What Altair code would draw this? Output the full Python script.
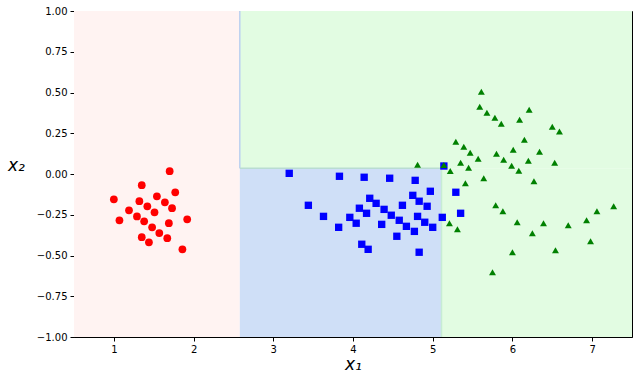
import altair as alt
import pandas as pd

# ---- data ----
red_x = [1.70, 1.35, 1.77, 1.00, 1.54, 1.32, 1.64, 1.42, 1.73, 1.19, 1.51,
         1.29, 1.07, 1.38, 1.92, 1.69, 1.48, 1.57, 1.35, 1.67, 1.44, 1.86]
red_y = [0.017, -0.069, -0.112, -0.155, -0.137, -0.167, -0.174, -0.198, -0.210,
         -0.223, -0.235, -0.260, -0.284, -0.290, -0.278, -0.302, -0.327, -0.362,
         -0.388, -0.394, -0.419, -0.462]

blue_x = [3.20, 3.83, 4.14, 4.46, 4.78, 5.14, 4.97, 4.75, 3.44, 4.21, 4.83, 4.29,
          4.93, 4.62, 4.08, 4.39, 4.17, 3.63, 4.48, 4.81, 5.12, 3.96, 4.58, 4.90,
          4.04, 4.36, 4.67, 5.00, 3.82, 4.77, 4.55, 4.11, 4.19, 4.83, 5.29, 5.35]
blue_y = [0.004, -0.014, -0.020, -0.026, -0.039, 0.049, -0.106, -0.131, -0.192,
          -0.149, -0.167, -0.180, -0.198, -0.192, -0.210, -0.217, -0.241, -0.260,
          -0.253, -0.260, -0.266, -0.266, -0.284, -0.296, -0.302, -0.309, -0.321,
          -0.327, -0.327, -0.352, -0.382, -0.431, -0.462, -0.480, -0.112, -0.241]

green_x = [5.61, 5.59, 5.68, 6.21, 5.78, 6.09, 5.86, 6.50, 6.59, 5.29, 5.39, 6.15,
           5.47, 6.01, 5.80, 6.34, 5.57, 5.89, 5.35, 6.20, 6.53, 4.81, 5.45, 5.99,
           6.08, 5.14, 5.22, 5.64, 5.41, 6.27, 5.79, 5.88, 7.27, 7.06, 6.93, 6.06,
           6.39, 6.70, 5.21, 5.31, 6.25, 6.98, 6.54, 6.00, 5.75]
green_y = [0.505, 0.413, 0.376, 0.394, 0.345, 0.333, 0.309, 0.290, 0.260, 0.198,
           0.167, 0.210, 0.131, 0.149, 0.125, 0.137, 0.094, 0.088, 0.069, 0.082,
           0.069, 0.057, 0.039, 0.051, 0.020, 0.055, 0.018, -0.026, -0.057, -0.045,
           -0.192, -0.229, -0.198, -0.229, -0.284, -0.296, -0.302, -0.315, -0.302,
           -0.339, -0.364, -0.413, -0.468, -0.480, -0.603]

# decision regions (thresholds)
region_cls = ["c0", "c2", "c1", "c2"]
region_x = [0.5, 2.58, 2.58, 5.11]
region_x2 = [2.58, 7.5, 5.11, 7.5]
region_y = [-1.0, 0.035, -1.0, -1.0]
region_y2 = [1.0, 1.0, 0.035, 0.035]

# boundary edges
edge_x = [2.58, 2.58, 5.11]
edge_x2 = [2.58, 5.11, 5.11]
edge_y = [0.035, 0.035, -1.0]
edge_y2 = [1.0, 0.035, 0.035]
edge_c = ["e1", "e2", "e3"]

x_ticks = [1, 2, 3, 4, 5, 6, 7]
y_ticks = [-1.0, -0.75, -0.5, -0.25, 0.0, 0.25, 0.5, 0.75, 1.0]

regions = pd.DataFrame({"cls": region_cls, "x": region_x, "x2": region_x2,
                        "y": region_y, "y2": region_y2})
edges = pd.DataFrame({"c": edge_c, "x": edge_x, "x2": edge_x2, "y": edge_y, "y2": edge_y2})
pts = pd.DataFrame({
    "x": red_x + blue_x + green_x,
    "y": red_y + blue_y + green_y,
    "cls": ["c0"] * len(red_x) + ["c1"] * len(blue_x) + ["c2"] * len(green_x),
})
pts["order"] = pts["cls"].map({"c0": 0, "c1": 1, "c2": 2})

xscale = alt.Scale(domain=[0.5, 7.5], nice=False, zero=False)
yscale = alt.Scale(domain=[-1, 1], nice=False, zero=False)

xaxis = alt.Axis(values=x_ticks, format="d", grid=False, title="x₁",
                 titleFont="DejaVu Sans", titleFontSize=17, titleFontStyle="italic",
                 titleFontWeight="normal", titleColor="black",
                 titleX=279, titleY=27, titleBaseline="middle", titleAlign="center")
yaxis = alt.Axis(values=y_ticks, format=".2f", grid=False, title="x₂",
                 titleFont="DejaVu Sans", titleFontSize=17, titleFontStyle="italic",
                 titleFontWeight="normal", titleColor="black", titleAngle=0,
                 titleX=-58, titleY=154, titleBaseline="middle", titleAlign="center")

bg = alt.Chart(regions).mark_rect(stroke=None).encode(
    x=alt.X("x:Q", scale=xscale, axis=xaxis),
    x2="x2:Q",
    y=alt.Y("y:Q", scale=yscale, axis=yaxis),
    y2="y2:Q",
    color=alt.Color("cls:N", scale=alt.Scale(domain=["c0", "c1", "c2"],
                    range=["#fff3f2", "#cfdff7", "#e2fce2"]), legend=None),
)

edge = alt.Chart(edges).mark_rule(strokeWidth=1.5).encode(
    x=alt.X("x:Q", scale=xscale), x2="x2:Q",
    y=alt.Y("y:Q", scale=yscale), y2="y2:Q",
    color=alt.Color("c:N", scale=alt.Scale(domain=["e1", "e2", "e3"],
                    range=["#bcd0f0", "#b9dcd2", "#c6ecd4"]), legend=None),
)

points = alt.Chart(pts).mark_point(filled=True, opacity=1, strokeWidth=0).encode(
    x=alt.X("x:Q", scale=xscale),
    y=alt.Y("y:Q", scale=yscale),
    color=alt.Color("cls:N", scale=alt.Scale(domain=["c0", "c1", "c2"],
                    range=["#ff0000", "#0000ff", "#008000"]), legend=None),
    shape=alt.Shape("cls:N", scale=alt.Scale(domain=["c0", "c1", "c2"],
                    range=["circle", "square", "triangle-up"]), legend=None),
    size=alt.Size("cls:N", scale=alt.Scale(domain=["c0", "c1", "c2"],
                  range=[60, 48, 80]), legend=None),
    order=alt.Order("order:Q"),
)

chart = alt.layer(bg, edge, points).resolve_scale(color="independent").properties(
    width=558, height=326,
    autosize=alt.AutoSizeParams(type="none"),
    padding={"left": 74, "top": 11, "right": 6, "bottom": 44},
    background="white",
).configure_view(stroke="black", strokeWidth=1).configure_axis(
    labelFont="DejaVu Sans", labelFontSize=10, labelColor="black",
    tickColor="black", tickSize=4, tickWidth=1, domainColor="black",
    domainWidth=1, labelPadding=3,
)

chart.save("out.html", embed_options={"renderer": "svg", "actions": False})
